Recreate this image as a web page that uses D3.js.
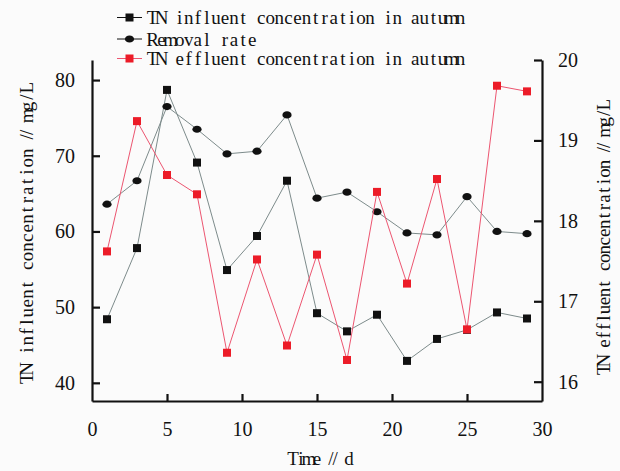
<!DOCTYPE html>
<html>
<head>
<meta charset="utf-8">
<script src="https://cdn.jsdelivr.net/npm/d3@7"></script>
<style>
  body { margin: 0; background: #fbfbfb; }
  svg { display: block; }
</style>
</head>
<body>
<div id="viz"></div>
<script>
// data
const days = [1, 3, 5, 7, 9, 11, 13, 15, 17, 19, 21, 23, 25, 27, 29];
const influent = [48.4, 57.8, 78.7, 69.1, 54.9, 59.4, 66.7, 49.2, 46.8, 49.0, 42.9, 45.8, 47.0, 49.3, 48.5];
const removal = [63.6, 66.7, 76.5, 73.5, 70.25, 70.6, 75.4, 64.4, 65.2, 62.6, 59.8, 59.55, 64.6, 60.0, 59.7];
const effluent = [17.62, 19.24, 18.57, 18.33, 16.36, 17.52, 16.45, 17.58, 16.27, 18.36, 17.22, 18.52, 16.65, 19.68, 19.61];

const xTicks = [0, 5, 10, 15, 20, 25, 30];
const leftTicks = [40, 50, 60, 70, 80];
const rightTicks = [16, 17, 18, 19, 20];
const legendNames = ["TN influent concentration in autumn", "Removal rate", "TN effluent concentration in autumn"];

const W = 620, H = 471;
const serif = "'Liberation Serif', 'Times New Roman', serif";
const grayLine = "#7d8b8b", redLine = "#ec5570", redMark = "#ec1c28", black = "#111";

const svg = d3.select("#viz").append("svg")
    .attr("width", W)
    .attr("height", H)
    .style("background", "#fbfbfb");

// scales
const x = d3.scaleLinear().domain([0, 30]).range([92, 542]);
const yL = d3.scaleLinear().domain([37.6, 82.65]).range([401, 60]);
const yR = d3.scaleLinear().domain([15.76, 20]).range([401, 60]);

// hidden text used to measure single glyphs
const probe = svg.append("text")
    .attr("x", -100).attr("y", -100)
    .style("font-family", serif);

// lay a string out on a fixed pitch, like the half-width font of the original;
// a "//" pair shares one cell
function monoText(g, str, x0, y, width, size) {
  probe.style("font-size", size + "px");
  const cells = [];
  for (let i = 0; i < str.length; i++) {
    if (str[i] === "/" && str[i + 1] === "/") { cells.push("//"); i++; }
    else cells.push(str[i]);
  }
  const pitch = width / cells.length;
  const xs = [];
  cells.forEach((c, k) => {
    const mid = x0 + (k + 0.5) * pitch;
    const parts = c === "//" ? [["/", -2.2], ["/", 2.2]] : [[c, 0]];
    parts.forEach(p => {
      probe.text(p[0] === " " ? "n" : p[0]);
      const w = probe.node().getComputedTextLength();
      xs.push((mid + p[1] - w / 2).toFixed(2));
    });
  });
  return g.append("text")
      .attr("x", xs.join(" "))
      .attr("y", y)
      .style("font-family", serif)
      .style("font-size", size + "px")
      .attr("fill", black)
      .text(str);
}

// axes (ticks pointing inward)
const xAxis = svg.append("g")
    .attr("transform", "translate(0,401)")
    .call(d3.axisBottom(x).tickValues(xTicks).tickSize(-7).tickPadding(19).tickSizeOuter(0));

const leftAxis = svg.append("g")
    .attr("transform", "translate(92,0)")
    .call(d3.axisLeft(yL).tickValues(leftTicks).tickSize(-8).tickPadding(17).tickSizeOuter(0));

const rightAxis = svg.append("g")
    .attr("transform", "translate(542,0)")
    .call(d3.axisRight(yR).tickValues(rightTicks).tickFormat(d3.format("d"))
        .tickSize(-8).tickPadding(16).tickSizeOuter(0));

[xAxis, leftAxis, rightAxis].forEach(a => {
  a.select(".domain").attr("stroke", black).attr("stroke-width", 2.2);
  a.selectAll(".tick line").attr("stroke", black).attr("stroke-width", 2.2);
  a.selectAll(".tick text")
      .attr("fill", black)
      .style("font-family", serif)
      .style("font-size", "20px");
});
// no tick marks where the x axis meets the y axes
xAxis.selectAll(".tick").filter(d => d === 0 || d === 30).select("line").remove();
xAxis.selectAll(".tick text").attr("dy", "0.8em");

// axis titles
monoText(svg, "Time // d", 289, 465, 64, 19);

const lt = svg.append("g").attr("transform", "translate(26,233) rotate(-90)");
monoText(lt, "TN influent concentration // mg/L", -150, 6.5, 300, 19);

const rt = svg.append("g").attr("transform", "translate(603,237) rotate(-90)");
monoText(rt, "TN effluent concentration // mg/L", -136.5, 6.5, 273, 19);

// series
const series = [
  {vals: influent, y: yL, line: grayLine, mark: "square", fill: black},
  {vals: removal, y: yL, line: grayLine, mark: "circle", fill: black},
  {vals: effluent, y: yR, line: redLine, mark: "square", fill: redMark}
];

function drawMarker(g, s, cx, cy) {
  if (s.mark === "square") {
    g.append("rect")
        .attr("x", cx - 4).attr("y", cy - 4)
        .attr("width", 8).attr("height", 8)
        .attr("fill", s.fill);
  } else {
    g.append("ellipse")
        .attr("cx", cx).attr("cy", cy)
        .attr("rx", 4.6).attr("ry", 3.6)
        .attr("fill", s.fill);
  }
}

series.forEach(s => {
  const pts = days.map((d, i) => [d, s.vals[i]]);
  svg.append("path")
      .datum(pts)
      .attr("fill", "none")
      .attr("stroke", s.line)
      .attr("stroke-width", 1)
      .attr("d", d3.line()
          .x(function(d) { return x(d[0]); })
          .y(function(d) { return s.y(d[1]); })
      );
  const g = svg.append("g");
  pts.forEach(p => drawMarker(g, s, x(p[0]), s.y(p[1])));
});

// legend
const legendY = [17.5, 39, 58.5];
series.forEach((s, i) => {
  const g = svg.append("g");
  g.append("line")
      .attr("x1", 117).attr("x2", 142)
      .attr("y1", legendY[i]).attr("y2", legendY[i])
      .attr("stroke", s.line === grayLine ? black : redLine)
      .attr("stroke-width", 1);
  drawMarker(g, s, 129.5, legendY[i]);
  monoText(g, legendNames[i], 148, legendY[i] + 6.5, legendNames[i].length * 9.06, 19);
});

probe.remove();
</script>
</body>
</html>
